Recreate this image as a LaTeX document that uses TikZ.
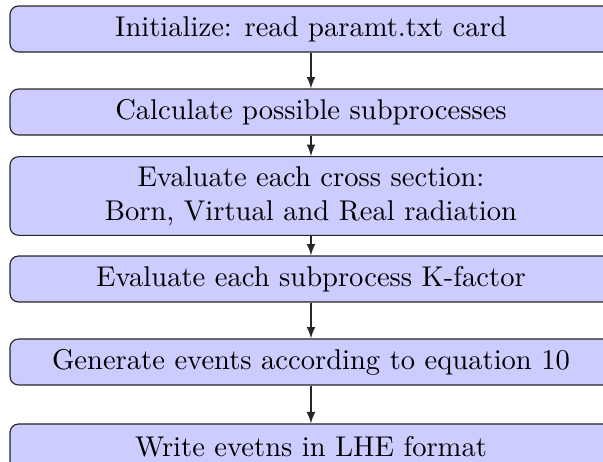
\documentclass[tikz,border=0pt]{standalone}
\usepackage{amsmath,amssymb}
\usepackage{tikz}
\usetikzlibrary{arrows}
\usepackage{xcolor}

\tikzset{
    stage/.style={rectangle, rounded corners=3pt, draw=black!85, fill=blue!20,
        minimum width=210.7pt, minimum height=16.1pt, align=center, inner sep=3.33pt},
    flow/.style={-latex, draw=black!85}
}

\begin{document}
\begin{tikzpicture}[x=0.35pt, y=-0.35pt]
        % Frame (picture is cut at the right and at the bottom)
        \useasboundingbox (0,0) rectangle (603,462);

        % Stages
        \node[stage] (init) at (311,29) {Initialize: read paramt.txt card};
        \node[stage] (subproc) at (311,112) {Calculate possible subprocesses};
        \node[stage] (xsec) at (311,196) {Evaluate each cross section:\\ Born, Virtual and Real radiation};
        \node[stage] (kfac) at (311,279) {Evaluate each subprocess K-factor};
        \node[stage] (gen) at (311,362) {Generate events according to equation 10};
        \node[stage] (lhe) at (311,447) {Write evetns in LHE format};

        % Arrows
        \foreach \a/\b in {init/subproc, subproc/xsec, xsec/kfac, kfac/gen, gen/lhe}
            \draw[flow] (\a) -- (\b);
    \end{tikzpicture}
\end{document}
